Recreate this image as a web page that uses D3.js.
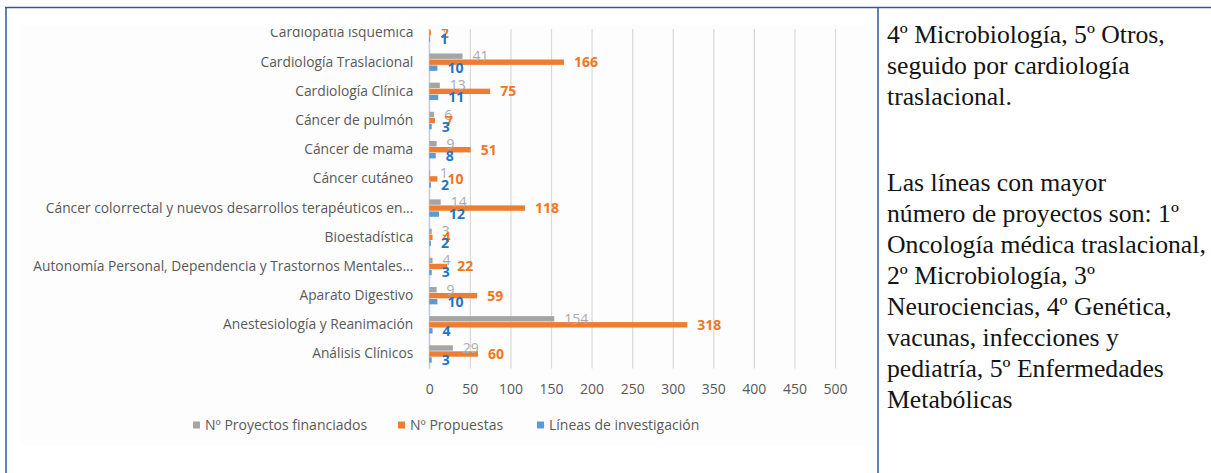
<!DOCTYPE html>
<html>
<head>
<meta charset="utf-8">
<script src="https://cdn.jsdelivr.net/npm/d3@7"></script>
<style>
  html, body { margin: 0; padding: 0; background: #fff; }
  svg { display: block; }
</style>
</head>
<body>
<svg id="page" width="1211" height="473"></svg>
<script>
// Data (top to bottom as drawn)
const categories = [
  "Cardiopatía isquémica",
  "Cardiología Traslacional",
  "Cardiología Clínica",
  "Cáncer de pulmón",
  "Cáncer de mama",
  "Cáncer cutáneo",
  "Cáncer colorrectal y nuevos desarrollos terapéuticos en...",
  "Bioestadística",
  "Autonomía Personal, Dependencia y Trastornos Mentales...",
  "Aparato Digestivo",
  "Anestesiología y Reanimación",
  "Análisis Clínicos"
];
const proyectosFinanciados = [1, 41, 13, 6, 9, 1, 14, 3, 4, 9, 154, 29];
const propuestas = [2, 166, 75, 7, 51, 10, 118, 4, 22, 59, 318, 60];
const lineasInvestigacion = [1, 10, 11, 3, 8, 2, 12, 2, 3, 10, 4, 3];
const xTicks = [0, 50, 100, 150, 200, 250, 300, 350, 400, 450, 500];
const seriesNames = ["Nº Proyectos financiados", "Nº Propuestas", "Líneas de investigación"];
const sideParagraphs = [
  ["4º Microbiología, 5º Otros,", "seguido por cardiología", "traslacional."],
  ["Las líneas con mayor", "número de proyectos son: 1º", "Oncología médica traslacional,",
   "2º Microbiología, 3º", "Neurociencias, 4º Genética,", "vacunas, infecciones y",
   "pediatría, 5º Enfermedades", "Metabólicas"]
];

const series = [
  { key: "fin", name: seriesNames[0], values: proyectosFinanciados, fill: "#A5A5A5", label: "#ABABAB", weight: 400 },
  { key: "pro", name: seriesNames[1], values: propuestas, fill: "#ED7D31", label: "#F07624", weight: 700 },
  { key: "lin", name: seriesNames[2], values: lineasInvestigacion, fill: "#5B9BD5", label: "#2574C4", weight: 700 }
];

const svg = d3.select("#page");
const FONT = "'Open Sans', 'Noto Sans', sans-serif";

// Frame lines
const frame = svg.append("g").attr("stroke", "#33579B").attr("stroke-width", 1.5);
frame.append("line").attr("x1", 5).attr("x2", 1211).attr("y1", 7.5).attr("y2", 7.5);
frame.append("line").attr("x1", 6).attr("x2", 6).attr("y1", 7).attr("y2", 473);
frame.append("line").attr("x1", 878).attr("x2", 878).attr("y1", 7).attr("y2", 473);

// Scales
const x = d3.scaleLinear().domain([0, 500]).range([429.3, 835]);
const y = d3.scaleBand().domain(categories).range([18.4, 368.6]);
const sub = d3.scaleBand().domain(series.map(s => s.key))
  .range([y.bandwidth() / 2 - 9, y.bandwidth() / 2 + 9]);
const barH = 5.4;

// chart area, clipped at the top like the source image
svg.append("clipPath").attr("id", "clip")
  .append("rect").attr("x", 0).attr("y", 29).attr("width", 870).attr("height", 444);

svg.append("rect").attr("x", 20).attr("y", 25).attr("width", 846).attr("height", 420)
  .attr("fill", "#FDFDFD");

const chart = svg.append("g").attr("clip-path", "url(#clip)");

// gridlines
chart.append("g")
  .attr("transform", `translate(0,${y.range()[1]})`)
  .call(d3.axisBottom(x).tickValues(xTicks).tickSize(-(y.range()[1] - y.range()[0])).tickFormat(""))
  .call(g => g.select(".domain").remove())
  .call(g => g.selectAll(".tick line").attr("stroke", "#D9D9D9").attr("stroke-width", 1.2));

// category axis line
chart.append("line")
  .attr("x1", x(0)).attr("x2", x(0))
  .attr("y1", y.range()[0]).attr("y2", y.range()[1])
  .attr("stroke", "#C4CCD8").attr("stroke-width", 1.2);

// category labels
chart.append("g")
  .attr("transform", `translate(${x(0)},0)`)
  .call(d3.axisLeft(y).tickSize(0).tickPadding(16))
  .call(g => g.select(".domain").remove())
  .call(g => g.selectAll("text")
    .attr("fill", "#595959").attr("font-family", FONT).attr("font-size", 13.8));

// bars: gray, blue, then orange on top
const drawOrder = [series[0], series[2], series[1]];
drawOrder.forEach(s => {
  chart.append("g").selectAll("rect")
    .data(categories.map((c, i) => ({ cat: c, v: s.values[i] })))
    .join("rect")
    .attr("x", x(0))
    .attr("y", d => y(d.cat) + sub(s.key) + (sub.bandwidth() - barH) / 2)
    .attr("width", d => x(d.v) - x(0))
    .attr("height", barH)
    .attr("fill", s.fill);
});

// data labels
series.forEach(s => {
  chart.append("g").selectAll("text")
    .data(categories.map((c, i) => ({ cat: c, v: s.values[i] })))
    .join("text")
    .attr("x", d => x(d.v) + 10)
    .attr("y", d => y(d.cat) + sub(s.key) + sub.bandwidth() / 2)
    .attr("dy", "0.36em")
    .attr("fill", s.label)
    .attr("font-family", FONT)
    .attr("font-size", 14)
    .attr("font-weight", s.weight)
    .text(d => d.v);
});

// value axis labels
svg.append("g")
  .attr("transform", `translate(0,${y.range()[1]})`)
  .call(d3.axisBottom(x).tickValues(xTicks).tickSize(0).tickPadding(15))
  .call(g => g.select(".domain").remove())
  .call(g => g.selectAll("text")
    .attr("fill", "#595959").attr("font-family", FONT).attr("font-size", 14));

// legend
const legendX = [193, 398, 537];
const legend = svg.append("g").attr("transform", "translate(0,425)");
series.forEach((s, i) => {
  const item = legend.append("g").attr("transform", `translate(${legendX[i]},0)`);
  item.append("rect").attr("x", 0).attr("y", -3.5).attr("width", 7).attr("height", 7).attr("fill", s.fill);
  item.append("text")
    .attr("x", 12).attr("dy", "0.35em")
    .attr("fill", "#595959").attr("font-family", FONT).attr("font-size", 14)
    .text(s.name);
});

// side text
const side = svg.append("g")
  .attr("font-family", "'Liberation Serif', 'DejaVu Serif', serif")
  .attr("font-size", 25.7)
  .attr("fill", "#141414");
const lineH = 31;
let baseY = 43;
sideParagraphs.forEach((para, p) => {
  if (p > 0) baseY += 55;
  para.forEach(line => {
    side.append("text").attr("x", 887).attr("y", baseY).text(line);
    baseY += lineH;
  });
});
</script>
</body>
</html>
